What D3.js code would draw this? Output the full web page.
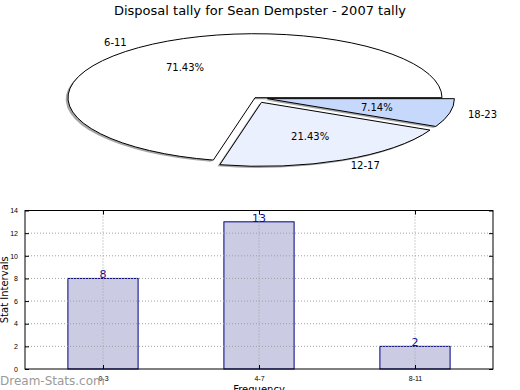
<!DOCTYPE html>
<html>
<head>
<meta charset="utf-8">
<script src="https://cdn.jsdelivr.net/npm/d3@7"></script>
<style>
  body { margin: 0; background: #fff; }
  svg { display: block; font-family: "DejaVu Sans", sans-serif; }
</style>
</head>
<body>
<div id="chart"></div>
<script>
// pie data
var pieLabels = ["6-11", "12-17", "18-23"];
var pieValues = [10, 3, 1];
var piePct = ["71.43%", "21.43%", "7.14%"];
var pieExplode = [0, 0.08, 0.068];
var pieColors = ["#ffffff", "#eaf0fd", "#c6d9fd"];

// bar data
var barCats = ["0-3", "4-7", "8-11"];
var barValues = [8, 13, 2];
var yTicks = [0, 2, 4, 6, 8, 10, 12, 14];

var W = 520, H = 390;
var svg = d3.select("#chart").append("svg")
   .attr("width", W).attr("height", H);

// title
svg.append("text")
   .attr("x", 260).attr("y", 15)
   .attr("text-anchor", "middle")
   .style("font-size", "13px")
   .text("Disposal tally for Sean Dempster - 2007 tally");

// ---- pie (squashed into an ellipse like the original) ----
var cx = 255, cy = 97.7, rx = 187, ry = 64;

// start at 3 o'clock and go counterclockwise
var pie = d3.pie().sort(null)
   .startAngle(Math.PI / 2)
   .endAngle(Math.PI / 2 - 2 * Math.PI);
var arcs = pie(pieValues);
var unitArc = d3.arc().innerRadius(0).outerRadius(1);

function midDir(d) {
   var a = (d.startAngle + d.endAngle) / 2;
   return [Math.sin(a), -Math.cos(a)];
}

var pg = svg.append("g")
   .attr("transform", "translate(" + cx + "," + cy + ") scale(" + rx + "," + ry + ")");

// shadows first
pg.selectAll(".shadow")
   .data(arcs)
   .enter().append("path")
   .attr("class", "shadow")
   .attr("d", unitArc)
   .attr("transform", function (d, i) {
      var m = midDir(d);
      return "translate(" + (m[0] * pieExplode[i] - 0.012) + "," + (m[1] * pieExplode[i] + 0.025) + ")";
   })
   .attr("fill", "#4d4d4d")
   .attr("fill-opacity", 0.5);

pg.selectAll(".slice")
   .data(arcs)
   .enter().append("path")
   .attr("class", "slice")
   .attr("d", unitArc)
   .attr("transform", function (d, i) {
      var m = midDir(d);
      return "translate(" + (m[0] * pieExplode[i]) + "," + (m[1] * pieExplode[i]) + ")";
   })
   .attr("fill", function (d, i) { return pieColors[i]; })
   .attr("stroke", "#000")
   .attr("stroke-width", 1)
   .attr("vector-effect", "non-scaling-stroke");

// labels
arcs.forEach(function (d, i) {
   var m = midDir(d);
   var k = 1.1 + pieExplode[i];
   svg.append("text")
      .attr("x", cx + m[0] * k * rx).attr("y", cy + m[1] * k * ry)
      .attr("dy", "0.35em")
      .attr("text-anchor", m[0] > 0 ? "start" : "end")
      .style("font-size", "10px")
      .text(pieLabels[i]);
   var p = 0.6 + pieExplode[i];
   svg.append("text")
      .attr("x", cx + m[0] * p * rx).attr("y", cy + m[1] * p * ry)
      .attr("dy", "0.35em")
      .attr("text-anchor", "middle")
      .style("font-size", "10px")
      .text(piePct[i]);
});

// ---- bar chart ----
var plotL = 25, plotR = 493, plotT = 210.5, plotB = 369;

var x = d3.scaleLinear().domain([-0.5, barCats.length - 0.5]).range([plotL, plotR]);
var y = d3.scaleLinear().domain([0, 14]).range([plotB, plotT]);
var bw = 0.45;

var bg = svg.append("g");

// bars
bg.selectAll("rect")
   .data(barValues)
   .enter().append("rect")
   .attr("x", function (d, i) { return x(i - bw / 2); })
   .attr("y", function (d) { return y(d); })
   .attr("width", x(bw) - x(0))
   .attr("height", function (d) { return y(0) - y(d); })
   .attr("fill", "#cbcbe3")
   .attr("stroke", "#000080")
   .attr("stroke-width", 1);

// grid
bg.append("g").selectAll("line")
   .data(yTicks.slice(1, -1))
   .enter().append("line")
   .attr("x1", plotL).attr("x2", plotR)
   .attr("y1", function (d) { return y(d); })
   .attr("y2", function (d) { return y(d); })
   .attr("stroke", "#a0a0a0")
   .attr("stroke-dasharray", "1,2");
bg.append("g").selectAll("line")
   .data(barCats)
   .enter().append("line")
   .attr("x1", function (d, i) { return x(i); })
   .attr("x2", function (d, i) { return x(i); })
   .attr("y1", plotT).attr("y2", plotB)
   .attr("stroke", "#a0a0a0")
   .attr("stroke-dasharray", "1,2");

// value labels
bg.selectAll(".val")
   .data(barValues)
   .enter().append("text")
   .attr("class", "val")
   .attr("x", function (d, i) { return x(i); })
   .attr("y", function (d) { return y(d); })
   .attr("text-anchor", "middle")
   .attr("fill", "#101090")
   .style("font-size", "11px")
   .text(function (d) { return d; });

// axes with inward ticks
bg.append("g")
   .attr("transform", "translate(" + plotL + ",0)")
   .call(d3.axisLeft(y).tickValues(yTicks).tickSize(-4).tickPadding(7))
   .call(function (g) { g.select(".domain").remove(); })
   .selectAll("text").style("font-size", "7px");
bg.append("g")
   .attr("transform", "translate(" + plotR + ",0)")
   .call(d3.axisRight(y).tickValues(yTicks).tickSize(-4).tickFormat(""))
   .call(function (g) { g.select(".domain").remove(); });
bg.append("g")
   .attr("transform", "translate(0," + plotB + ")")
   .call(d3.axisBottom(x).tickValues([0, 1, 2]).tickFormat(function (d) { return barCats[d]; }).tickSize(-4).tickPadding(7))
   .call(function (g) { g.select(".domain").remove(); })
   .selectAll("text").style("font-size", "7px");
bg.append("g")
   .attr("transform", "translate(0," + plotT + ")")
   .call(d3.axisTop(x).tickValues([0, 1, 2]).tickSize(-4).tickFormat(""))
   .call(function (g) { g.select(".domain").remove(); });

bg.append("rect")
   .attr("x", plotL).attr("y", plotT)
   .attr("width", plotR - plotL).attr("height", plotB - plotT)
   .attr("fill", "none").attr("stroke", "#000");

svg.append("text")
   .attr("transform", "translate(8," + ((plotT + plotB) / 2) + ") rotate(-90)")
   .attr("text-anchor", "middle")
   .style("font-size", "10px")
   .text("Stat Intervals");

svg.append("text")
   .attr("x", (plotL + plotR) / 2).attr("y", 393)
   .attr("text-anchor", "middle")
   .style("font-size", "10px")
   .text("Frequency");

// watermark
svg.append("text")
   .attr("x", 0).attr("y", 385)
   .attr("fill", "#9a9a9a")
   .style("font-size", "12px")
   .text("Dream-Stats.com");
</script>
</body>
</html>
